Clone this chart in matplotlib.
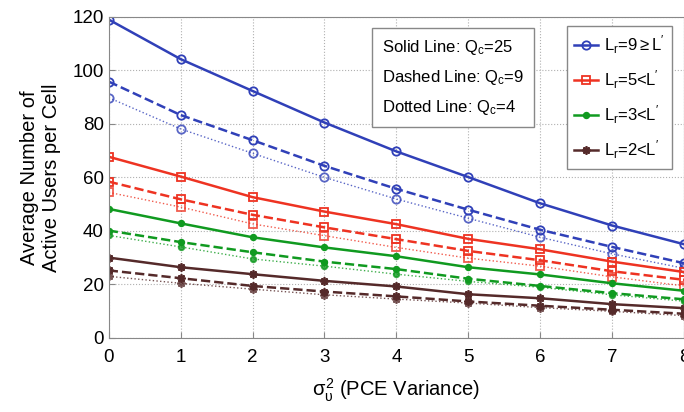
import numpy as np
import matplotlib.pyplot as plt

plt.rcParams['font.family'] = ['Liberation Sans', 'DejaVu Sans']
plt.rcParams['mathtext.fontset'] = 'custom'
plt.rcParams['mathtext.rm'] = 'Liberation Sans'
plt.rcParams['mathtext.it'] = 'Liberation Sans'

variance = [0, 1, 2, 3, 4, 5, 6, 7, 8]

# Lr = 9
blue_q25 = [119.0, 104.2, 92.3, 80.5, 69.7, 60.1, 50.3, 42.0, 35.0]
blue_q9 = [95.8, 83.3, 73.9, 64.3, 55.7, 47.9, 40.4, 34.0, 27.9]
blue_q4 = [89.8, 78.1, 69.0, 60.0, 51.9, 44.7, 37.6, 31.4, 26.0]
# Lr = 5
red_q25 = [67.7, 60.3, 52.6, 47.2, 42.5, 37.0, 33.1, 28.5, 24.6]
red_q9 = [58.4, 51.8, 46.0, 41.3, 36.9, 32.5, 29.0, 24.9, 21.7]
red_q4 = [54.4, 48.9, 42.6, 38.2, 33.8, 29.8, 26.8, 22.8, 19.4]
# Lr = 3
green_q25 = [48.2, 42.8, 37.6, 33.8, 30.5, 26.4, 23.7, 20.4, 17.6]
green_q9 = [40.1, 35.8, 32.0, 28.5, 25.7, 22.1, 19.4, 16.7, 14.4]
green_q4 = [38.3, 34.0, 29.5, 26.8, 23.8, 21.1, 18.9, 16.1, 13.7]
# Lr = 2
brown_q25 = [30.0, 26.4, 23.8, 21.3, 19.2, 16.3, 14.8, 12.6, 11.1]
brown_q9 = [25.2, 22.3, 19.4, 17.3, 15.5, 13.6, 12.0, 10.5, 9.0]
brown_q4 = [23.0, 20.4, 18.2, 16.1, 14.5, 13.0, 11.3, 9.9, 8.3]

labels = [r"L$_r$=9$\geq$L$^{\prime}$", r"L$_r$=5<L$^{\prime}$",
          r"L$_r$=3<L$^{\prime}$", r"L$_r$=2<L$^{\prime}$"]

groups = [
    ([blue_q25, blue_q9, blue_q4], '#3040b8', 'o', 'none'),
    ([red_q25, red_q9, red_q4], '#ee3322', 's', 'none'),
    ([green_q25, green_q9, green_q4], '#109a20', 'o', None),
    ([brown_q25, brown_q9, brown_q4], '#552a2a', (8, 2, 0), None),
]

fig = plt.figure(figsize=(6.84, 4.12), dpi=100)
ax = fig.add_axes([0.159, 0.180, 0.841, 0.779])

for (series, color, marker, mfc), label in zip(groups, labels):
    ms = 4 if marker == 'o' and mfc is None else 6
    ax.plot(variance, series[0], '-', color=color, marker=marker, mfc=mfc if mfc else color,
            ms=ms, mew=1.3, lw=1.8, label=label)
    ax.plot(variance, series[1], '--', color=color, marker=marker, mfc=mfc if mfc else color,
            ms=ms, mew=1.3, lw=1.8)
    ax.plot(variance, series[2], ':', color=color, marker=marker, mfc=mfc if mfc else color,
            ms=ms, mew=1.3, lw=1.0, alpha=0.8)

ax.set_xlim(0, 8)
ax.set_ylim(0, 120)
ax.set_xticks(range(0, 9))
ax.set_yticks(range(0, 121, 20))
ax.grid(True, linestyle=':', color='#b0b0b0', lw=0.8)
ax.tick_params(labelsize=13.5, direction='in', length=4, color='#888888')
for s in ax.spines.values():
    s.set_color('#888888')
ax.tick_params(axis='x', pad=8)

ax.set_ylabel("Average Number of\nActive Users per Cell", fontsize=14.5, labelpad=8)
ax.set_xlabel(r"$\sigma_{\upsilon}^{2}$ (PCE Variance)", fontsize=14.5, labelpad=8)

ax.text(0.475, 0.935, "Solid Line: Q$_c$=25\n\nDashed Line: Q$_c$=9\n\nDotted Line: Q$_c$=4",
        transform=ax.transAxes, fontsize=12, va='top', ha='left', linespacing=0.85,
        bbox=dict(boxstyle='square,pad=0.6', fc='white', ec='#888888', lw=1))

leg = ax.legend(loc='upper right', bbox_to_anchor=(0.98, 0.972), fontsize=12,
                fancybox=False, framealpha=1, edgecolor='#888888', handlelength=1.4,
                handletextpad=0.4, labelspacing=0.75, borderpad=0.45, borderaxespad=0)

fig.savefig('out.png', dpi=100)
